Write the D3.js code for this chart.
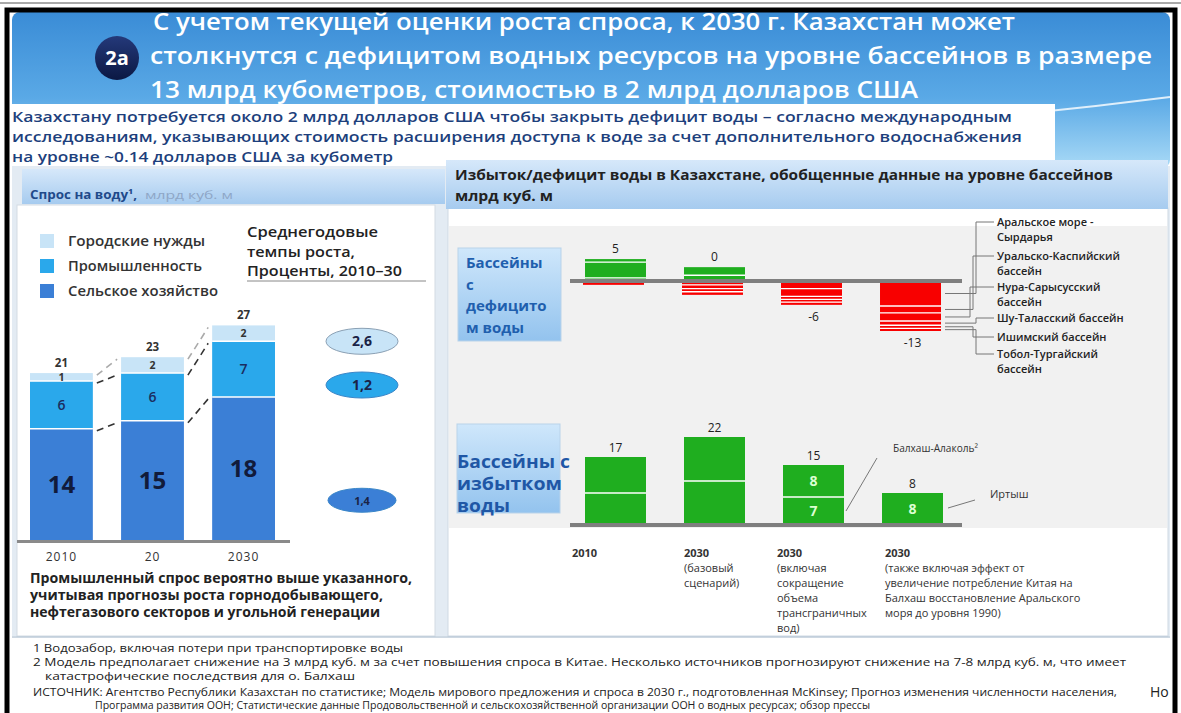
<!DOCTYPE html>
<html>
<head>
<meta charset="utf-8">
<script src="https://cdn.jsdelivr.net/npm/d3@7"></script>
<style>
  html, body { margin: 0; padding: 0; background: #fff; }
  svg { display: block; }
</style>
</head>
<body>
<svg id="chart" width="1181" height="713"></svg>
<script>
// ---- data ----
const titleLines = [
  'С учетом текущей оценки роста спроса, к 2030 г. Казахстан может',
  'столкнутся с дефицитом водных ресурсов на уровне бассейнов в размере',
  '13 млрд кубометров, стоимостью в 2 млрд долларов США'
];
const subtitleLines = [
  'Казахстану потребуется около 2 млрд долларов  США чтобы закрыть дефицит воды – согласно международным',
  'исследованиям, указывающих  стоимость  расширения доступа к воде за счет дополнительного водоснабжения',
  'на уровне ~0.14 долларов  США за кубометр'
];

const demandYears = ['2010', '20', '2030'];
const demandSeries = ['Городские нужды', 'Промышленность', 'Сельское хозяйство'];
const demandUrban = [1, 2, 2];
const demandIndustry = [6, 6, 7];
const demandAgri = [14, 15, 18];
const demandTotals = [21, 23, 27];
const growthRates = ['2,6', '1,2', '1,4'];
const growthTitle = ['Среднегодовые', 'темпы роста,', 'Проценты, 2010–30'];
const demandNote = [
  'Промышленный спрос вероятно выше указанного,',
  'учитывая прогнозы роста горнодобывающего,',
  'нефтегазового секторов и угольной генерации'
];

const scenarios = ['s2010', 's2030base', 's2030trans', 's2030china'];
const scenarioLabels = [
  ['2010'],
  ['2030', '(базовый', 'сценарий)'],
  ['2030', '(включая', 'сокращение', 'объема', 'трансграничных', 'вод)'],
  ['2030', '(также включая  эффект от', 'увеличение потребление Китая  на', 'Балхаш восстановление Аральского', 'моря до уровня 1990)']
];
// deficit basins: surplus parts (stacked upward) and deficit parts (stacked downward)
const deficitPos = [[0.8, 4.1, 0.8], [1.5, 2.1], [], []];
const deficitNeg = [[1.0], [1.0, 1.0, 0.8, 0.8], [2.0, 2.0, 0.8, 0.7, 0.7], [6.5, 1.8, 2.1, 1.1, 0.8, 0.7]];
const deficitTotals = ['5', '0', '-6', '-13'];
const basinLabels = [
  ['Аральское море -', 'Сырдарья'],
  ['Уральско-Каспийский', 'бассейн'],
  ['Нура-Сарысусский', 'бассейн'],
  ['Шу-Таласский бассейн'],
  ['Ишимский бассейн'],
  ['Тобол-Тургайский', 'бассейн']
];
// surplus basins
const surplusBalkhash = [8, 11, 7, 0];
const surplusIrtysh = [9, 11, 8, 8];
const surplusTotals = ['17', '22', '15', '8'];
const surplusInnerShown = [false, false, true, true];

const footnotes = [
  '1 Водозабор, включая потери при транспортировке воды',
  '2 Модель предполагает снижение на 3 млрд куб. м за счет повышения спроса в Китае. Несколько источников прогнозируют снижение на 7-8 млрд куб. м, что имеет',
  'катастрофические последствия для о. Балхаш',
  'ИСТОЧНИК: Агентство Республики Казахстан по статистике; Модель мирового предложения и спроса в 2030 г., подготовленная McKinsey; Прогноз изменения численности населения,',
  'Программа развития ООН; Статистические данные Продовольственной и сельскохозяйственной организации ООН о водных ресурсах; обзор прессы'
];

// ---- setup ----
const FONT = "'Open Sans', 'Noto Sans', sans-serif";
const svg = d3.select('#chart');
const defs = svg.append('defs');

function addText(parent, x, y, str, o = {}) {
  const t = parent.append('text')
    .attr('x', x).attr('y', y).text(str)
    .attr('font-family', o.family || FONT)
    .attr('font-size', o.size || 12)
    .attr('font-weight', o.weight || 400)
    .attr('fill', o.fill || '#222')
    .attr('text-anchor', o.anchor || 'start');
  if (o.w) t.attr('textLength', o.w).attr('lengthAdjust', 'spacingAndGlyphs');
  return t;
}

function vGrad(id, stops) {
  const g = defs.append('linearGradient').attr('id', id)
    .attr('x1', 0).attr('y1', 0).attr('x2', 0).attr('y2', 1);
  stops.forEach(([o, c]) => g.append('stop').attr('offset', o).attr('stop-color', c));
}
vGrad('hdr', [[0, '#3a8cd6'], [0.55, '#5aa9e6'], [1, '#a9daf6']]);
vGrad('bar', [[0, '#d6e8fa'], [1, '#a6cbef']]);
vGrad('box', [[0, '#cfe7fb'], [1, '#93c3ee']]);
vGrad('badge', [[0, '#24397a'], [1, '#0b1843']]);

// ---- frame and header ----
svg.append('rect').attr('x', 0).attr('y', 0).attr('width', 1181).attr('height', 713).attr('fill', '#fff');
svg.append('rect').attr('x', 12).attr('y', 12).attr('width', 1158).attr('height', 156)
  .attr('rx', 8).attr('fill', 'url(#hdr)');
svg.append('path').attr('d', 'M1000,116 Q1085,108 1170,97')
  .attr('fill', 'none').attr('stroke', '#fff').attr('stroke-width', 2).attr('opacity', 0.8);

svg.append('circle').attr('cx', 117).attr('cy', 58).attr('r', 22).attr('fill', 'url(#badge)');
addText(svg, 117, 65, '2a', { size: 20, weight: 700, fill: '#fff', anchor: 'middle' });

const titleX = [153, 150, 150], titleW = [862, 1002, 768], titleY = [30, 64, 98];
titleLines.forEach((s, i) => addText(svg, titleX[i], titleY[i], s, { size: 24, weight: 600, fill: '#fff', w: titleW[i] }));

// subtitle strip
svg.append('rect').attr('x', 10).attr('y', 104).attr('width', 1045).attr('height', 62).attr('fill', '#fff');
const subW = [1000, 1010, 381];
subtitleLines.forEach((s, i) => addText(svg, 12, 122 + i * 20, s, { size: 15, weight: 600, fill: '#1d3f7c', w: subW[i] }));

// content background
svg.append('rect').attr('x', 12).attr('y', 166).attr('width', 1158).attr('height', 470).attr('fill', '#e3ebf3');
// left panel
svg.append('rect').attr('x', 17).attr('y', 205).attr('width', 418).attr('height', 431)
  .attr('fill', '#fff').attr('stroke', '#d3dbe3');
svg.append('rect').attr('x', 22).attr('y', 169).attr('width', 423).attr('height', 35).attr('fill', 'url(#bar)');
addText(svg, 30, 199, 'Спрос на воду¹,', { size: 11.5, weight: 700, fill: '#1f4a8a', w: 107 });
addText(svg, 145, 199, 'млрд куб. м', { size: 11, fill: '#8ea6c6', w: 88 });
// right panel
svg.append('rect').attr('x', 448).attr('y', 208).attr('width', 720).attr('height', 428)
  .attr('fill', '#fff').attr('stroke', '#cfd9e3');
svg.append('rect').attr('x', 449).attr('y', 226).attr('width', 718).attr('height', 302).attr('fill', '#f1f1f1');
svg.append('rect').attr('x', 446).attr('y', 160).attr('width', 722).attr('height', 49).attr('fill', 'url(#bar)');
addText(svg, 455, 180, 'Избыток/дефицит воды в Казахстане, обобщенные данные на уровне бассейнов', { size: 13.5, weight: 700, fill: '#222', w: 658 });
addText(svg, 455, 201, 'млрд куб. м', { size: 13.5, weight: 700, fill: '#222', w: 98 });

// outer black frame
svg.append('line').attr('x1', 0).attr('x2', 1181).attr('y1', 3).attr('y2', 3).attr('stroke', '#555').attr('stroke-width', 1);
svg.append('path').attr('d', 'M7,713 V10 H1175 V713').attr('fill', 'none').attr('stroke', '#000').attr('stroke-width', 5);

// ---- left chart: water demand ----
const gL = svg.append('g');
const xL = d3.scaleBand().domain(demandYears).range([30, 275]).paddingInner(0.31);
const yL = d3.scaleLinear().domain([0, 27]).range([540, 325.4]);
const demandRows = demandYears.map((yr, i) => ({ year: yr, agri: demandAgri[i], industry: demandIndustry[i], urban: demandUrban[i] }));
const demandKeys = ['agri', 'industry', 'urban'];
const demandColor = d3.scaleOrdinal().domain(demandKeys).range(['#3b7fd6', '#2aa8eb', '#c8e4f7']);
const stackL = d3.stack().keys(demandKeys)(demandRows);
const bw = xL.bandwidth();

gL.selectAll('g.layer').data(stackL).join('g').attr('class', 'layer')
  .attr('fill', d => demandColor(d.key))
  .selectAll('rect').data(d => d).join('rect')
  .attr('x', d => xL(d.data.year)).attr('y', d => yL(d[1]))
  .attr('width', bw).attr('height', d => yL(d[0]) - yL(d[1]));

// white separators
stackL.slice(0, 2).forEach(layer => layer.forEach(d => {
  gL.append('line').attr('x1', xL(d.data.year)).attr('x2', xL(d.data.year) + bw)
    .attr('y1', yL(d[1])).attr('y2', yL(d[1])).attr('stroke', '#fff').attr('stroke-width', 1.5);
}));

// segment labels
const segStyle = {
  agri: { size: 24, weight: 700, fill: '#111b3b' },
  industry: { size: 14, weight: 600, fill: '#1b2d60' },
  urban: { size: 10.5, weight: 700, fill: '#333' }
};
stackL.forEach(layer => layer.forEach(d => {
  const st = segStyle[layer.key];
  addText(gL, xL(d.data.year) + bw / 2, (yL(d[0]) + yL(d[1])) / 2 + st.size * 0.36, d[1] - d[0],
    { size: st.size, weight: st.weight, fill: st.fill, anchor: 'middle' });
}));
demandTotals.forEach((t, i) => addText(gL, xL(demandYears[i]) + bw / 2, yL(t) - 6, t,
  { size: 11.5, weight: 700, fill: '#333', anchor: 'middle' }));

// dashed connectors
for (let i = 0; i < demandYears.length - 1; i++) {
  const a = demandYears[i], b = demandYears[i + 1];
  const levels = [
    [demandTotals[i], demandTotals[i + 1], '#aaa'],
    [demandAgri[i] + demandIndustry[i], demandAgri[i + 1] + demandIndustry[i + 1], '#333'],
    [demandAgri[i], demandAgri[i + 1], '#333']
  ];
  levels.forEach(([v1, v2, c]) => {
    gL.append('line').attr('x1', xL(a) + bw + 4).attr('x2', xL(b) - 4)
      .attr('y1', yL(v1) + 2).attr('y2', yL(v2) + 2)
      .attr('stroke', c).attr('stroke-width', 1.6).attr('stroke-dasharray', '7,5');
  });
}

// axis
const axL = gL.append('g').attr('transform', `translate(0,${yL(0)})`)
  .call(d3.axisBottom(xL).tickSize(0).tickPadding(12));
axL.select('.domain').remove();
axL.selectAll('text').attr('font-family', FONT).attr('font-size', 12).attr('fill', '#333')
  .attr('letter-spacing', 1);
gL.append('line').attr('x1', 17).attr('x2', 290).attr('y1', yL(0) + 1.5).attr('y2', yL(0) + 1.5)
  .attr('stroke', '#8a8a8a').attr('stroke-width', 3);

// legend
const legendColors = ['#c8e4f7', '#2aa8eb', '#3b7fd6'];
const legendW = [137, 134, 150];
demandSeries.forEach((s, i) => {
  gL.append('rect').attr('x', 40).attr('y', 234 + i * 25).attr('width', 14).attr('height', 14).attr('fill', legendColors[i]);
  addText(gL, 68, 246 + i * 25, s, { size: 13.5, weight: 600, fill: '#333', w: legendW[i] });
});
const growthW = [131, 108, 155];
growthTitle.forEach((s, i) => addText(gL, 247, 237 + i * 19.5, s, { size: 14.5, weight: 600, fill: '#222', w: growthW[i] }));
gL.append('line').attr('x1', 247).attr('x2', 426).attr('y1', 281).attr('y2', 281).attr('stroke', '#888').attr('stroke-width', 1);

// growth ellipses, placed beside the 2030 bar segments
const rateAnchor = [25, 19.5, 5];
const rateFill = ['#c8e4f7', '#2aa8eb', '#3b7fd6'];
growthRates.forEach((r, i) => {
  const cy = yL(rateAnchor[i]);
  gL.append('ellipse').attr('cx', 362).attr('cy', cy).attr('rx', i === 2 ? 34 : 36).attr('ry', i === 2 ? 12 : 13)
    .attr('fill', rateFill[i]).attr('stroke', i === 0 ? '#8aa0b4' : '#3a86c8').attr('stroke-width', 1);
  addText(gL, 362, cy + 5, r, { size: i === 2 ? 11 : 14, weight: 700, fill: '#1a2346', anchor: 'middle' });
});

const noteW = [382, 353, 350];
demandNote.forEach((s, i) => addText(gL, 30, 583 + i * 17, s, { size: 14, weight: 700, fill: '#222', w: noteW[i] }));

// ---- right chart: surplus / deficit ----
const gR = svg.append('g');
const xR = d3.scaleBand().domain(scenarios).range([585, 943]).paddingInner(0.384);
const rbw = xR.bandwidth();
const yDef = d3.scaleLinear().domain([-13, 0]).range([331, 281]);
const ySur = d3.scaleLinear().domain([0, 22]).range([525, 437]);

// side boxes
gR.append('rect').attr('x', 458).attr('y', 248).attr('width', 103).attr('height', 93).attr('fill', 'url(#box)')
  .attr('stroke', '#b9d3ea');
['Бассейны', 'с', 'дефицито', 'м воды'].forEach((s, i) =>
  addText(gR, 466, 268 + i * 21.5, s, { size: 15, weight: 700, fill: '#1f5fae' }));
gR.append('rect').attr('x', 457).attr('y', 424).attr('width', 103).attr('height', 89).attr('fill', 'url(#box)')
  .attr('stroke', '#b9d3ea');
const surBoxW = [113, 105, 53];
['Бассейны с', 'избытком', 'воды'].forEach((s, i) =>
  addText(gR, 457, 468 + i * 22, s, { size: 17, weight: 700, fill: '#1f57a6', w: surBoxW[i] }));

// deficit bars
scenarios.forEach((s, i) => {
  let acc = 0;
  deficitPos[i].forEach((v, j) => {
    gR.append('rect').attr('x', xR(s)).attr('width', rbw)
      .attr('y', yDef(acc + v)).attr('height', yDef(acc) - yDef(acc + v)).attr('fill', '#1fae1f');
    if (j > 0) gR.append('line').attr('x1', xR(s)).attr('x2', xR(s) + rbw).attr('y1', yDef(acc)).attr('y2', yDef(acc))
      .attr('stroke', '#fff').attr('stroke-width', 1.3);
    acc += v;
  });
  const topPos = acc;
  acc = 0;
  deficitNeg[i].forEach((v, j) => {
    gR.append('rect').attr('x', xR(s) - 2).attr('width', rbw)
      .attr('y', yDef(acc)).attr('height', yDef(acc - v) - yDef(acc)).attr('fill', '#f80000');
    if (j > 0) gR.append('line').attr('x1', xR(s) - 2).attr('x2', xR(s) - 2 + rbw).attr('y1', yDef(acc)).attr('y2', yDef(acc))
      .attr('stroke', '#fff').attr('stroke-width', 1.3);
    acc -= v;
  });
  const isNeg = deficitTotals[i].startsWith('-');
  const ly = isNeg ? yDef(acc) + 16 : yDef(topPos) - 6;
  addText(gR, xR(s) + rbw / 2, ly, deficitTotals[i], { size: 12, fill: '#222', anchor: 'middle' });
});
gR.append('line').attr('x1', 570).attr('x2', 962).attr('y1', yDef(0)).attr('y2', yDef(0))
  .attr('stroke', '#7f7f7f').attr('stroke-width', 4);

// basin leader lines (from the 2030 deficit bar)
const lastS = scenarios[3];
const basinLabelY = [222, 256, 287, 318, 337, 354];
const elbowX = [976, 973, 970, 976, 973, 976];
let accN = 0;
deficitNeg[3].forEach((v, j) => {
  const ym = yDef(accN - v / 2);
  accN -= v;
  const ly = basinLabelY[j];
  gR.append('path').attr('d', `M${xR(lastS) + rbw + 2},${ym} H${elbowX[j]} V${ly} H994`)
    .attr('fill', 'none').attr('stroke', '#777').attr('stroke-width', 1);
  basinLabels[j].forEach((s, k) => addText(gR, 997, ly + 4 + k * 15, s, { size: 11, weight: 600, fill: '#222' }));
});

// surplus bars
scenarios.forEach((s, i) => {
  const b = surplusBalkhash[i], ir = surplusIrtysh[i];
  gR.append('rect').attr('x', xR(s)).attr('width', rbw).attr('y', ySur(b + ir)).attr('height', ySur(0) - ySur(b + ir))
    .attr('fill', '#1fae1f');
  if (b > 0) gR.append('line').attr('x1', xR(s)).attr('x2', xR(s) + rbw).attr('y1', ySur(b)).attr('y2', ySur(b))
    .attr('stroke', '#fff').attr('stroke-width', 1.5);
  addText(gR, xR(s) + rbw / 2, ySur(b + ir) - 5, surplusTotals[i], { size: 12, fill: '#222', anchor: 'middle' });
  if (surplusInnerShown[i]) {
    addText(gR, xR(s) + rbw / 2, ySur(b + ir / 2) + 5, ir, { size: 14, weight: 700, fill: '#dcffd2', anchor: 'middle' });
    if (b > 0) addText(gR, xR(s) + rbw / 2, ySur(b / 2) + 5, b, { size: 14, weight: 700, fill: '#dcffd2', anchor: 'middle' });
  }
});
gR.append('line').attr('x1', 570).attr('x2', 962).attr('y1', ySur(0)).attr('y2', ySur(0))
  .attr('stroke', '#7f7f7f').attr('stroke-width', 4);

// surplus pointers
gR.append('line').attr('x1', xR(scenarios[2]) + rbw + 2).attr('y1', ySur(surplusBalkhash[2] / 2))
  .attr('x2', 877).attr('y2', 458).attr('stroke', '#777').attr('stroke-width', 1);
addText(gR, 893, 452, 'Балхаш-Алаколь²', { size: 10, fill: '#333', w: 85 });
gR.append('line').attr('x1', xR(scenarios[3]) + rbw + 5).attr('y1', ySur(surplusIrtysh[3] / 2) - 1)
  .attr('x2', 975).attr('y2', 500).attr('stroke', '#777').attr('stroke-width', 1);
addText(gR, 990, 498, 'Иртыш', { size: 11, fill: '#333' });

// scenario labels
const scenarioLabelDx = [-13, 0, -6, 3];
scenarios.forEach((s, i) => {
  scenarioLabels[i].forEach((line, k) => {
    addText(gR, xR(s) + scenarioLabelDx[i], 557 + k * 15, line,
      { size: 11, weight: k === 0 ? 700 : 400, fill: '#333' });
  });
});

// ---- footnotes ----
svg.append('line').attr('x1', 12).attr('x2', 1170).attr('y1', 637).attr('y2', 637).attr('stroke', '#9db2c6');
const footX = [33, 33, 45, 33, 95];
const footY = [652, 666, 680, 696, 709];
const footW = [370, 1093, 310, 1084, 775];
footnotes.forEach((s, i) => addText(svg, footX[i], footY[i], s, { size: 10.5, fill: '#222', w: footW[i] }));
addText(svg, 1150, 697, 'Но', { size: 14, fill: '#222' });
</script>
</body>
</html>
